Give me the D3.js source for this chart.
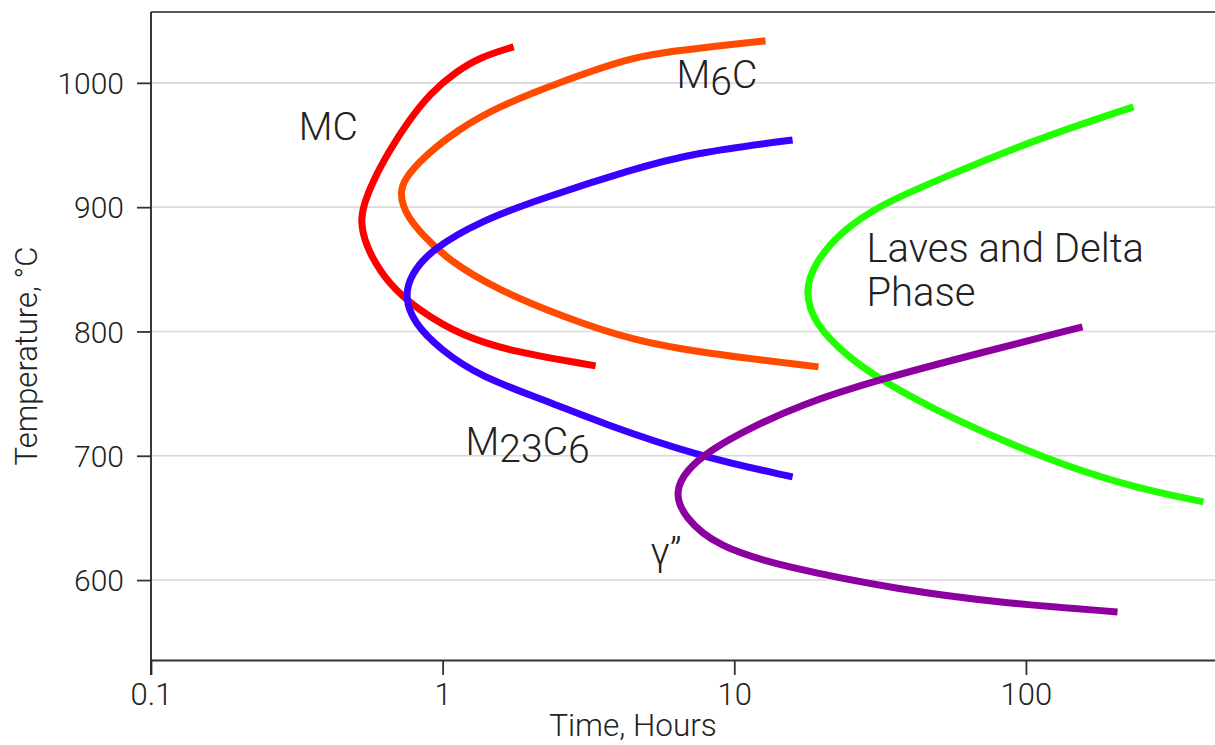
<!DOCTYPE html>
<html>
<head>
<meta charset="utf-8">
<script src="https://cdn.jsdelivr.net/npm/d3@7"></script>
<style>
  html, body { margin: 0; padding: 0; background: #fff; }
  svg { display: block; }
  text { font-family: Roboto, "Noto Sans", sans-serif; font-weight: 300; fill: #222; }
</style>
</head>
<body>
<svg id="chart" width="1215" height="745"></svg>
<script>
// ---- data (time in hours, temperature in °C) ----
const xTickValues = [0.1, 1, 10, 100];
const xTickLabels = ["0.1", "1", "10", "100"];
const yTickValues = [600, 700, 800, 900, 1000];
const yTickLabels = ["600", "700", "800", "900", "1000"];

const phaseColors = ["#ff0000", "#ff4a00", "#3a00ff", "#22ff00", "#8b009e"];

const mcCurve = [[1.752,1029],[1.35,1020.9],[1.108,1008.8],[0.91,992],[0.759,968.6],[0.653,944.5],[0.575,920.4],[0.536,901.9],[0.5235,888.2],[0.540,873.7],[0.5665,861.6],[0.648,839.1],[0.821,817.4],[1.18,795.7],[1.752,783.6],[3.346,772.3]];
const m6cCurve = [[12.8,1033.8],[8.295,1029],[5.588,1024.1],[4.411,1020.1],[2.479,1000],[1.544,980.7],[1.126,962.2],[0.861,940.5],[0.735,922],[0.718,911.5],[0.729,901.9],[0.765,891.4],[0.841,879.3],[1.04,857.6],[1.544,833.5],[2.599,811.7],[4.411,793.2],[7.664,782.8],[19.45,771.5]];
const m23c6Curve = [[15.85,954.1],[7.253,943.7],[4.411,930],[2.22,907.5],[1.35,889],[0.91,865.6],[0.777,845.5],[0.741,827.8],[0.796,806.9],[0.984,785.2],[1.35,763.5],[2.22,745],[3.481,726.5],[7.664,699.1],[15.85,683]];
const lavesCurve = [[233.8,980.7],[106.2,954.1],[48.23,920.4],[31.73,901.9],[23.14,880.1],[19.0,856],[17.42,833.5],[18.7,806.9],[24.46,779.6],[31.73,761.1],[53.86,731.3],[118.6,696.7],[228.3,675],[406.2,662.9]];
const gammaCurve = [[156.3,803.7],[69.9,782.8],[31.0,761.1],[16.88,741],[11.37,722.4],[8.295,704.8],[6.864,688.7],[6.242,671],[6.703,650.8],[8.764,626.7],[14.76,610.6],[37.17,592.1],[81.8,581.7],[206.1,574.4]];

const curves = [mcCurve, m6cCurve, m23c6Curve, lavesCurve, gammaCurve];

// label anchor positions in data units
const labelMC = [0.321, 954];
const labelM6C = [6.34, 996];
const labelM23C6 = [1.199, 700.7];
const labelLaves = [28.4, 856];
const labelPhase = [28.4, 820.6];
const labelGamma = [5.16, 612.2];

// ---- layout ----
const plotL = 151, plotR = 1215, plotT = 12, plotB = 660;

const svg = d3.select("#chart");

const x = d3.scaleLog().domain([0.1, 445]).range([plotL, plotR]);
const y = d3.scaleLinear().domain([535.7, 1057]).range([plotB, plotT]);

// gridlines
svg.append("g").selectAll("line").data(yTickValues).join("line")
  .attr("x1", plotL).attr("x2", plotR)
  .attr("y1", d => y(d)).attr("y2", d => y(d))
  .attr("stroke", "#d9d9d9").attr("stroke-width", 1.6);

// top frame line
svg.append("line").attr("x1", plotL).attr("x2", plotR).attr("y1", plotT).attr("y2", plotT)
  .attr("stroke", "#222").attr("stroke-width", 1.6);

// axes
const xAxis = d3.axisBottom(x).tickValues(xTickValues)
  .tickFormat((d, i) => xTickLabels[i]).tickSize(15).tickSizeOuter(0).tickPadding(8);
const gx = svg.append("g").attr("transform", `translate(0,${plotB})`).call(xAxis);
gx.select(".domain").attr("stroke", "#333").attr("stroke-width", 1.8);
gx.selectAll(".tick line").attr("stroke", "#333").attr("stroke-width", 1.8);
gx.selectAll(".tick text").attr("font-size", 31).attr("fill", "#222")
  .attr("font-family", "Roboto").attr("dy", "0.71em");

const yAxis = d3.axisLeft(y).tickValues(yTickValues)
  .tickFormat((d, i) => yTickLabels[i]).tickSize(14).tickSizeOuter(0).tickPadding(13);
const gy = svg.append("g").attr("transform", `translate(${plotL},0)`).call(yAxis);
gy.select(".domain").attr("d", `M0,${plotT}V${plotB + 15}`).attr("stroke", "#222").attr("stroke-width", 1.8);
gy.selectAll(".tick line").attr("stroke", "#333").attr("stroke-width", 1.8);
gy.selectAll(".tick text").attr("font-size", 30).attr("fill", "#222")
  .attr("font-family", "Roboto").attr("dy", "0.36em");

// axis titles
svg.append("text").attr("x", 633).attr("y", 736).attr("text-anchor", "middle")
  .attr("font-size", 31.5).text("Time, Hours");
svg.append("text").attr("transform", "translate(37,356) rotate(-90)")
  .attr("text-anchor", "middle").attr("font-size", 31).text("Temperature, °C");

// curves
const line = d3.line().x(d => x(d[0])).y(d => y(d[1])).curve(d3.curveBasis);
svg.append("g").selectAll("path").data(curves).join("path")
  .attr("d", d => line(d))
  .attr("fill", "none")
  .attr("stroke", (d, i) => phaseColors[i])
  .attr("stroke-width", 7)
  .attr("stroke-linecap", "butt");

// labels
const lab = svg.append("g").attr("font-size", 39);
lab.append("text").attr("x", x(labelMC[0])).attr("y", y(labelMC[1])).text("MC");

const m6 = lab.append("text").attr("x", x(labelM6C[0])).attr("y", y(labelM6C[1]));
m6.append("tspan").text("M");
m6.append("tspan").attr("dy", 7).text("6");
m6.append("tspan").attr("dy", -7).text("C");

const m23 = lab.append("text").attr("x", x(labelM23C6[0])).attr("y", y(labelM23C6[1]));
m23.append("tspan").text("M");
m23.append("tspan").attr("dy", 7).text("23");
m23.append("tspan").attr("dy", -7).text("C");
m23.append("tspan").attr("dy", 8).text("6");

lab.append("text").attr("x", x(labelLaves[0])).attr("y", y(labelLaves[1])).attr("font-size", 40).text("Laves and Delta");
lab.append("text").attr("x", x(labelPhase[0])).attr("y", y(labelPhase[1])).attr("font-size", 40).text("Phase");

lab.append("text").attr("x", x(labelGamma[0])).attr("y", y(labelGamma[1])).text("γ”");
</script>
</body>
</html>
